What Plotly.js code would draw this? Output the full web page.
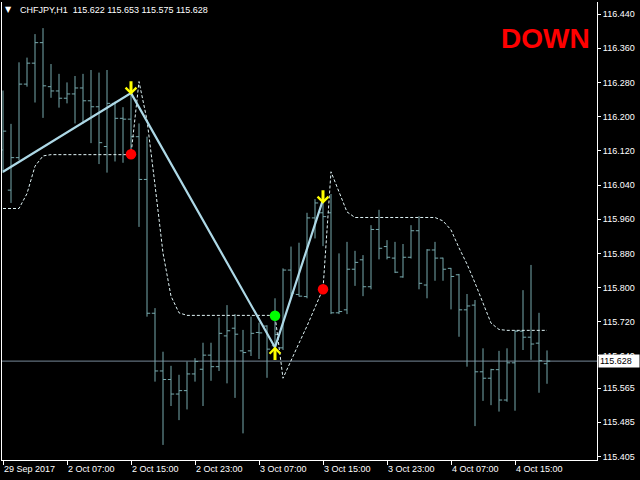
<!DOCTYPE html>
<html>
<head>
<meta charset="utf-8">
<script src="https://cdn.plot.ly/plotly-3.0.1.min.js"></script>
<style>
html,body{margin:0;padding:0;background:#000;}
#chart{width:640px;height:480px;}
</style>
</head>
<body>
<div id="chart"></div>
<script>
// ---- data ----
const barIndex = Array.from({length: 69}, (_, i) => i);
const openP = [116.122,116.028,116.104,116.276,116.325,116.373,116.270,116.260,116.243,116.253,
  116.267,116.237,116.223,116.130,116.231,116.196,116.194,116.153,116.053,115.740,
  115.605,115.585,115.551,115.559,115.598,115.609,115.642,115.615,115.687,115.705,
  115.652,115.652,115.695,115.710,115.664,115.659,115.841,115.784,115.779,115.963,
  115.975,115.975,115.741,115.748,115.843,115.865,115.802,115.936,115.896,115.869,
  115.825,115.871,115.933,115.806,115.888,115.869,115.845,115.830,115.748,115.759,
  115.603,115.588,115.608,115.537,115.624,115.698,115.684,115.670,115.622];
const highP = [116.261,116.183,116.327,116.338,116.393,116.407,116.323,116.300,116.280,116.295,
  116.300,116.309,116.303,116.309,116.235,116.222,116.255,116.184,116.153,115.752,
  115.650,115.617,115.596,115.627,115.635,115.671,115.671,115.730,115.759,115.738,
  115.701,115.732,115.718,115.712,115.775,115.845,115.896,115.905,115.975,116.007,
  116.008,116.019,115.880,115.907,115.886,115.876,115.946,115.982,115.911,115.907,
  115.902,115.946,115.967,115.890,115.907,115.870,115.846,115.832,115.785,115.771,
  115.658,115.610,115.652,115.658,115.700,115.794,115.853,115.741,115.653];
const lowP = [116.068,115.998,116.098,116.270,116.233,116.197,116.244,116.221,116.231,116.184,
  116.184,116.138,116.089,116.069,116.095,116.092,116.122,115.942,115.732,115.580,
  115.432,115.523,115.490,115.515,115.580,115.523,115.582,115.605,115.576,115.542,
  115.459,115.640,115.633,115.589,115.658,115.654,115.775,115.779,115.775,115.915,
  115.897,115.738,115.738,115.738,115.804,115.780,115.796,115.866,115.866,115.834,
  115.823,115.868,115.796,115.775,115.816,115.816,115.749,115.685,115.615,115.476,
  115.535,115.525,115.510,115.533,115.512,115.654,115.631,115.554,115.575];
const closeP = [116.166,116.104,116.276,116.325,116.373,116.272,116.260,116.243,116.253,116.267,
  116.237,116.223,116.139,116.231,116.196,116.194,116.153,116.053,115.740,115.605,
  115.585,115.551,115.559,115.598,115.627,115.642,115.615,115.693,115.699,115.691,
  115.648,115.693,115.694,115.656,115.690,115.841,115.787,115.780,115.963,115.998,
  115.966,115.741,115.744,115.843,115.859,115.802,115.936,115.892,115.871,115.836,
  115.871,115.933,115.810,115.888,115.869,115.843,115.826,115.748,115.757,115.603,
  115.588,115.608,115.537,115.624,115.698,115.684,115.668,115.629,115.628];
const bandLine = [115.985,115.985,115.985,116.020,116.084,116.108,
  116.111,116.111,116.111,116.111,116.111,116.111,116.111,116.111,116.111,116.111,116.111,
  116.282,116.192,116.040,115.881,115.780,115.741,
  115.735,115.735,115.735,115.735,115.735,115.735,115.735,115.735,115.735,115.735,115.735,115.735,
  115.588,115.627,115.670,115.710,115.752,115.797,
  116.071,116.024,115.977,
  115.964,115.964,115.964,115.964,115.964,115.964,115.964,115.964,115.964,115.964,115.964,
  115.956,115.935,115.893,115.855,115.811,115.764,115.717,115.702,
  115.700,115.700,115.700,115.700,115.700,115.700];
const zigzagIdx = [0, 16, 34, 40];
const zigzagPrice = [116.071, 116.255, 115.660, 116.006];
const redDotIdx = [16, 40];
const redDotPrice = [116.112, 115.796];
const greenDotIdx = [34];
const greenDotPrice = [115.734];
const arrowDownIdx = [16, 40];
const arrowDownPrice = [116.251, 115.996];
const arrowUpIdx = [34];
const arrowUpPrice = [115.662];
const currentPrice = 115.628;
const headerText = "CHFJPY,H1\u00a0 115.622 115.653 115.575 115.628";
const signalText = "DOWN";
const timeTickIdx = [0, 8, 16, 24, 32, 40, 48, 56, 64];
const timeTickText = ["29 Sep 2017","2 Oct 07:00","2 Oct 15:00","2 Oct 23:00","3 Oct 07:00",
  "3 Oct 15:00","3 Oct 23:00","4 Oct 07:00","4 Oct 15:00"];
const priceTickVals = [116.440,116.360,116.280,116.200,116.120,116.040,115.960,115.880,
  115.800,115.720,115.640,115.565,115.485,115.405];
const priceTickText = priceTickVals.map(v => v.toFixed(3));

// ---- chart ----
const barColor = '#77a9ad';
const traces = [
  {
    type: 'ohlc', x: barIndex, open: openP, high: highP, low: lowP, close: closeP,
    increasing: {line: {color: barColor, width: 1}},
    decreasing: {line: {color: barColor, width: 1}},
    tickwidth: 0.4, hoverinfo: 'skip', showlegend: false
  },
  {
    type: 'scatter', mode: 'lines', x: barIndex, y: bandLine,
    line: {color: '#e0f4f6', width: 1, dash: '3px,2px'}, hoverinfo: 'skip', showlegend: false
  },
  {
    type: 'scatter', mode: 'lines', x: zigzagIdx, y: zigzagPrice,
    line: {color: '#add8e6', width: 2.2}, hoverinfo: 'skip', showlegend: false
  },
  {
    type: 'scatter', mode: 'markers', x: redDotIdx, y: redDotPrice,
    marker: {color: '#ff0000', size: 10.5}, hoverinfo: 'skip', showlegend: false
  },
  {
    type: 'scatter', mode: 'markers', x: greenDotIdx, y: greenDotPrice,
    marker: {color: '#00ff00', size: 10.5}, hoverinfo: 'skip', showlegend: false
  }
];

const font9 = {family: 'Liberation Sans, Arial, sans-serif', size: 9, color: '#ffffff'};
const annotations = [];
arrowDownIdx.forEach((xi, k) => annotations.push({
  x: xi, y: arrowDownPrice[k], xref: 'x', yref: 'y', text: '', showarrow: true,
  ax: 0, ay: -15, arrowhead: 4, arrowsize: 0.7, arrowwidth: 3, arrowcolor: '#ffff00', standoff: 0
}));
arrowUpIdx.forEach((xi, k) => annotations.push({
  x: xi, y: arrowUpPrice[k], xref: 'x', yref: 'y', text: '', showarrow: true,
  ax: 0, ay: 15, arrowhead: 4, arrowsize: 0.7, arrowwidth: 3, arrowcolor: '#ffff00', standoff: 0
}));
annotations.push({
  xref: 'paper', yref: 'paper', x: 0.011, y: 0.983, xanchor: 'center', yanchor: 'middle',
  text: '\u25BC', showarrow: false, font: {family: 'DejaVu Sans', size: 8, color: '#ffffff'}
});
annotations.push({
  xref: 'paper', yref: 'paper', x: 0.027, y: 0.983, xanchor: 'left', yanchor: 'middle',
  text: headerText, showarrow: false, font: font9
});
annotations.push({
  xref: 'paper', yref: 'paper', x: 0.914, y: 0.921, xanchor: 'center', yanchor: 'middle',
  text: signalText, showarrow: false,
  font: {family: 'Liberation Sans Narrow, Liberation Sans, Arial, sans-serif', size: 28, color: '#ff0000', weight: 'bold'}
});
annotations.push({
  xref: 'paper', yref: 'y', x: 1, y: currentPrice, xanchor: 'left', yanchor: 'middle', xshift: 1,
  text: currentPrice.toFixed(3), showarrow: false, bgcolor: '#ffffff', borderpad: 1,
  width: 38, align: 'left',
  font: {family: 'Liberation Sans, Arial, sans-serif', size: 9, color: '#000000'}
});

const layout = {
  width: 640, height: 480,
  paper_bgcolor: '#000000', plot_bgcolor: '#000000',
  margin: {l: 2, r: 43, t: 2, b: 20},
  showlegend: false, hovermode: false,
  xaxis: {
    type: 'linear', range: [-0.125, 74.25], rangeslider: {visible: false},
    tickvals: timeTickIdx, ticktext: timeTickText, ticklabelposition: 'outside right',
    ticks: 'outside', ticklen: 4, tickcolor: '#ffffff', showline: true, linecolor: '#ffffff',
    linewidth: 1, showgrid: false, zeroline: false, tickfont: font9, fixedrange: true
  },
  yaxis: {
    side: 'right', range: [115.3967, 116.4681],
    tickvals: priceTickVals, ticktext: priceTickText,
    ticks: 'outside', ticklen: 3, tickcolor: '#ffffff', showline: true, linecolor: '#ffffff',
    linewidth: 1, mirror: true, showgrid: false, zeroline: false, tickfont: font9, fixedrange: true
  },
  shapes: [{
    type: 'line', xref: 'paper', yref: 'y', x0: 0, x1: 1, y0: currentPrice, y1: currentPrice,
    line: {color: '#778899', width: 1}, layer: 'below'
  }],
  annotations: annotations
};

Plotly.newPlot('chart', traces, layout, {displayModeBar: false, staticPlot: true});
</script>
</body>
</html>
